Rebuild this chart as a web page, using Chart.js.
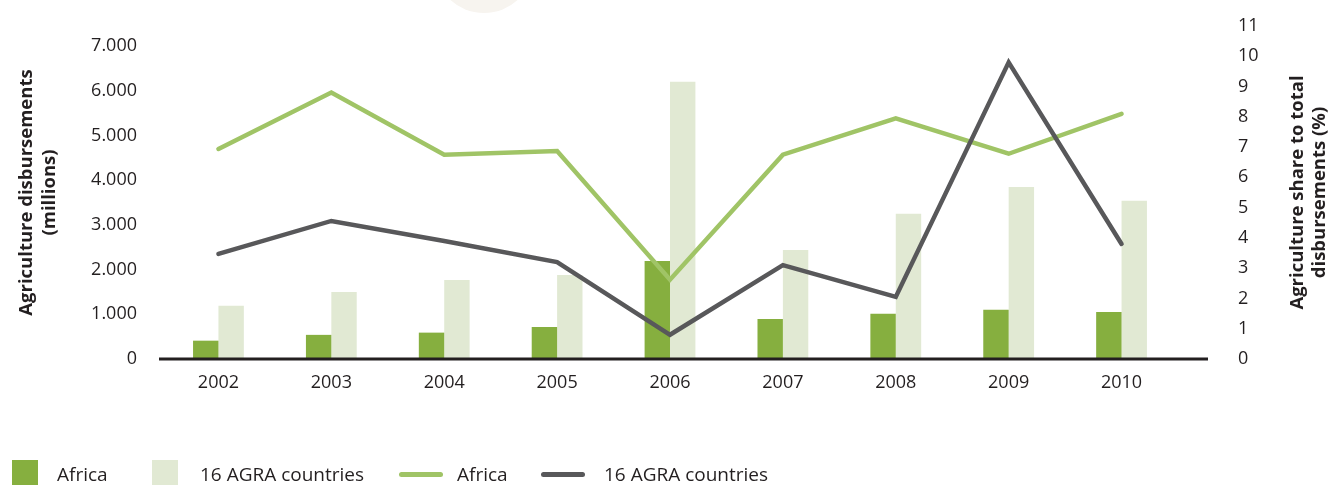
<!DOCTYPE html>
<html>
<head>
<meta charset="utf-8">
<script src="https://cdn.jsdelivr.net/npm/chart.js@4.4.1/dist/chart.umd.min.js"></script>
<style>
  body { margin: 0; background: #fff; }
  #wrap { position: relative; width: 1334px; height: 485px; overflow: hidden; }
  #legend { position: absolute; left: 0; top: 0; width: 1334px; height: 485px; pointer-events: none;
            font-family: "Open Sans", sans-serif; font-size: 19px; color: #231f20; }
  .lg-sw { position: absolute; }
  .lg-tx { position: absolute; top: 462px; line-height: 24px; white-space: nowrap; }
</style>
</head>
<body>
<div id="wrap">
  <canvas id="myChart" width="1334" height="485"></canvas>
  <div id="legend"></div>
</div>
<script>
// data
const years = ['2002', '2003', '2004', '2005', '2006', '2007', '2008', '2009', '2010'];
const africaDisb = [410, 540, 590, 716, 2190, 895, 1010, 1100, 1050];
const agraDisb = [1190, 1500, 1770, 1880, 6200, 2440, 3250, 3850, 3540];
const africaShare = [6.94, 8.8, 6.75, 6.87, 2.62, 6.75, 7.95, 6.78, 8.1];
const agraShare = [3.47, 4.56, 3.9, 3.2, 0.8, 3.1, 2.05, 9.8, 3.8];
const leftTicks = [0, 1000, 2000, 3000, 4000, 5000, 6000, 7000];
const rightTicks = [0, 1, 2, 3, 4, 5, 6, 7, 8, 9, 10, 11];

const darkText = '#231f20';
const tickFont = { family: '"Open Sans", sans-serif', size: 18 };

function fmtThousands(v) {
    return String(v).replace(/\B(?=(\d{3})+(?!\d))/g, '.');
}

// faint circle at the top edge + extended baseline + right axis title
const extras = {
    id: 'extras',
    beforeDraw(chart) {
        const ctx = chart.ctx;
        ctx.save();
        ctx.fillStyle = '#f7f4ef';
        ctx.beginPath();
        ctx.arc(484, -37, 50, 0, Math.PI * 2);
        ctx.fill();
        ctx.restore();
    },
    afterDatasetsDraw(chart) {
        const ctx = chart.ctx;
        const area = chart.chartArea;
        const y = chart.scales.yLeft.getPixelForValue(0);
        ctx.save();
        ctx.strokeStyle = darkText;
        ctx.lineWidth = 3;
        ctx.beginPath();
        ctx.moveTo(area.left - 3, y);
        ctx.lineTo(area.right + 30, y);
        ctx.stroke();
        ctx.restore();
    },
    afterDraw(chart) {
        const ctx = chart.ctx;
        const area = chart.chartArea;
        const cy = (area.top + area.bottom) / 2;
        ctx.save();
        ctx.fillStyle = darkText;
        ctx.font = 'bold 18.5px "Open Sans", sans-serif';
        ctx.textAlign = 'center';
        ctx.textBaseline = 'middle';
        ctx.translate(1298, cy);
        ctx.rotate(-Math.PI / 2);
        ctx.fillText('Agriculture share to total', 0, 0);
        ctx.fillText('disbursements (%)', 0, 22);
        ctx.restore();
    }
};

function fixWidth(w) {
    return function (scale) {
        scale.width = w;
        // keep the large tick padding from pushing the plot area down
        scale.paddingTop = 12;
        scale.paddingBottom = 12;
    };
}

const ctx = document.getElementById('myChart').getContext('2d');
const chart = new Chart(ctx, {
    type: 'bar',
    data: {
        labels: years,
        datasets: [
            {
                label: 'Africa',
                data: africaDisb,
                backgroundColor: '#86af3f',
                yAxisID: 'yLeft',
                categoryPercentage: 0.45,
                barPercentage: 1.0,
                order: 3
            },
            {
                label: '16 AGRA countries',
                data: agraDisb,
                backgroundColor: '#e1e9d3',
                yAxisID: 'yLeft',
                categoryPercentage: 0.45,
                barPercentage: 1.0,
                order: 3
            },
            {
                type: 'line',
                label: 'Africa',
                data: africaShare,
                borderColor: '#a0c466',
                backgroundColor: '#a0c466',
                borderWidth: 4.5,
                borderCapStyle: 'round',
                borderJoinStyle: 'miter',
                tension: 0,
                pointRadius: 0,
                yAxisID: 'yRight',
                order: 2
            },
            {
                type: 'line',
                label: '16 AGRA countries',
                data: agraShare,
                borderColor: '#58585a',
                backgroundColor: '#58585a',
                borderWidth: 4.5,
                borderCapStyle: 'round',
                borderJoinStyle: 'miter',
                tension: 0,
                pointRadius: 0,
                yAxisID: 'yRight',
                order: 1
            }
        ]
    },
    options: {
        responsive: false,
        animation: false,
        layout: { padding: { left: 0, right: 0, top: 26, bottom: 86 } },
        plugins: {
            legend: { display: false },
            tooltip: { enabled: false }
        },
        scales: {
            x: {
                grid: { display: false, drawTicks: false },
                border: { display: false },
                ticks: { color: darkText, font: tickFont, padding: 13 },
                afterFit(scale) { scale.height = 40; }
            },
            yLeft: {
                position: 'left',
                min: 0,
                max: 7450,
                grid: { display: false, drawTicks: false },
                border: { display: false },
                afterBuildTicks(scale) { scale.ticks = leftTicks.map(v => ({ value: v })); },
                ticks: {
                    color: darkText, font: tickFont, padding: 25,
                    callback: v => fmtThousands(v)
                },
                title: {
                    display: true,
                    text: ['Agriculture disbursements', '(millions)'],
                    color: darkText,
                    font: { family: '"Open Sans", sans-serif', size: 18.5, weight: 'bold' },
                    padding: { top: 16, bottom: 0 }
                },
                afterFit: fixWidth(162)
            },
            yRight: {
                position: 'right',
                min: 0,
                max: 11,
                grid: { display: false, drawTicks: false },
                border: { display: false },
                afterBuildTicks(scale) { scale.ticks = rightTicks.map(v => ({ value: v })); },
                ticks: { color: darkText, font: tickFont, padding: 60 },
                afterFit: fixWidth(156)
            }
        }
    },
    plugins: [extras]
});

// legend built from the datasets
const legendLeft = [12, 152, 399, 541];
const legendTextLeft = [57, 200, 457, 604];
const legendEl = document.getElementById('legend');
chart.data.datasets.forEach((ds, i) => {
    const sw = document.createElement('div');
    sw.className = 'lg-sw';
    sw.style.left = legendLeft[i] + 'px';
    if (ds.type === 'line') {
        sw.style.top = '472px';
        sw.style.width = '44px';
        sw.style.height = '5px';
        sw.style.borderRadius = '3px';
        sw.style.background = ds.borderColor;
    } else {
        sw.style.top = '460px';
        sw.style.width = '26px';
        sw.style.height = '25px';
        sw.style.background = ds.backgroundColor;
    }
    legendEl.appendChild(sw);
    const tx = document.createElement('div');
    tx.className = 'lg-tx';
    tx.style.left = legendTextLeft[i] + 'px';
    tx.textContent = ds.label;
    legendEl.appendChild(tx);
});
</script>
</body>
</html>
